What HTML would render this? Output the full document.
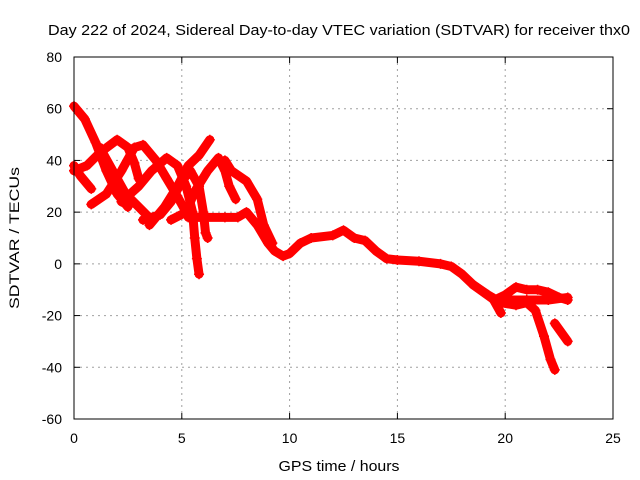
<!DOCTYPE html>
<html><head><meta charset="utf-8"><style>
body{margin:0;background:#fff;}
svg{display:block;font-family:"Liberation Sans",Arial,sans-serif;}
</style></head><body>
<svg id="chart" width="640" height="480">
<text x="339" y="35" font-size="15" text-anchor="middle" textLength="582" lengthAdjust="spacingAndGlyphs">Day 222 of 2024, Sidereal Day-to-day VTEC variation (SDTVAR) for receiver thx0</text>
<text x="339" y="471" font-size="15" text-anchor="middle" textLength="121" lengthAdjust="spacingAndGlyphs">GPS time / hours</text>
<text transform="translate(19,238) rotate(-90)" font-size="14" text-anchor="middle" textLength="142" lengthAdjust="spacingAndGlyphs">SDTVAR / TECUs</text>
<g id="grid"></g><g id="ticks"></g><g id="series"></g>
<rect x="74" y="57" width="539" height="362" fill="none" stroke="#000" stroke-width="1"/>
</svg>
<script>
const xTicks=[0,5,10,15,20,25];
const yTicks=[80,60,40,20,0,-20,-40,-60];
const trackA=[[0,61],[0.5,56],[1,47],[1.5,36],[2,27],[2.5,22]];
const trackB=[[0,36],[0.6,38],[1.2,43],[2,48],[2.5,45],[2.8,39],[3,33]];
const trackC=[[0,38],[0.3,34],[0.8,29]];
const trackD=[[0.8,23],[1.5,27],[2.2,36],[2.8,45],[3.2,46],[3.8,40],[4.3,33],[4.8,26],[5.2,20]];
const trackE=[[1.2,45],[1.8,36],[2.4,27],[3,22],[3.6,17]];
const trackF=[[2.2,24],[3,30],[3.6,36],[4.3,41],[4.8,38],[5.2,30],[5.5,20],[5.6,10],[5.7,2],[5.8,-4]];
const trackG=[[3.5,15],[4.2,22],[4.8,30],[5.3,38],[5.8,42],[6.3,48]];
const trackH=[[4.5,17],[5.2,20],[5.6,28],[6.2,36],[6.7,41],[7,36],[7.2,30],[7.5,25]];
const trackI=[[3.2,17],[4,19],[4.5,24],[5,32],[5.4,36],[5.8,30],[6,20],[6.1,12],[6.2,10]];
const trackJ=[[5.3,18],[6,18],[7,18],[7.6,18],[8,20],[8.5,15],[9,8],[9.3,5],[9.7,3],[10,4],[10.5,8],[11,10],[12,11],[12.5,13],[13,10],[13.5,9],[14,5],[14.5,2],[15,1.5],[16,1],[17,0],[17.5,-1],[18,-4],[18.5,-8],[19,-11],[19.5,-14],[20,-12],[20.5,-9],[21,-10],[21.5,-10],[22,-11],[22.5,-13],[22.9,-14]];
const trackK=[[18.5,-8],[19.2,-12],[19.8,-15],[20.5,-16],[21,-15],[21.4,-18],[21.8,-28],[22.1,-37],[22.3,-41]];
const trackL=[[19.4,-13],[19.8,-19]];
const trackM=[[22.3,-23],[22.9,-30]];
const trackN=[[20,-14],[21,-14],[22,-14],[22.9,-13]];
const trackO=[[7,40],[7.3,36],[8,32],[8.5,25],[8.8,15],[9.2,8]];
const tracks=[trackA,trackB,trackC,trackD,trackE,trackF,trackG,trackH,trackI,trackJ,trackK,trackL,trackM,trackN,trackO];
const X=v=>74+v*(539/25);
const Y=v=>419-(v+60)*(362/140);
const NS="http://www.w3.org/2000/svg";
function mk(t,a,p){const e=document.createElementNS(NS,t);for(const k in a)e.setAttribute(k,a[k]);p.appendChild(e);return e;}
const grid=document.getElementById('grid'),ticks=document.getElementById('ticks'),ser=document.getElementById('series');
xTicks.forEach(t=>{
 if(t>0&&t<25){const g=mk('line',{x1:X(t),x2:X(t),y1:57,y2:419,stroke:'#a0a0a0','stroke-dasharray':'2,4'},grid);
 
 }
 mk('line',{x1:X(t),x2:X(t),y1:419,y2:413,stroke:'#000'},ticks);
 mk('line',{x1:X(t),x2:X(t),y1:57,y2:63,stroke:'#000'},ticks);
 const l=mk('text',{x:X(t),y:443,'font-size':14,'text-anchor':'middle'},ticks);l.textContent=t;
 
 
});
yTicks.forEach(t=>{
 if(t>-60&&t<80){const g=mk('line',{x1:74,x2:613,y1:Y(t),y2:Y(t),stroke:'#a0a0a0','stroke-dasharray':'2,4'},grid);
 
 }
 mk('line',{x1:74,x2:80,y1:Y(t),y2:Y(t),stroke:'#000'},ticks);
 mk('line',{x1:613,x2:607,y1:Y(t),y2:Y(t),stroke:'#000'},ticks);
 const l=mk('text',{x:62,y:Y(t)+5,'font-size':14,'text-anchor':'end'},ticks);l.textContent=t;
 
 
});
tracks.forEach(tr=>{
 const p=mk('polyline',{points:tr.map(d=>X(d[0])+','+Y(d[1])).join(' '),fill:'none',stroke:'#ff0000','stroke-width':9,'stroke-linejoin':'round','stroke-linecap':'round'},ser);
 
 
 tr.forEach(d=>{
  const m=mk('path',{d:`M${X(d[0])-5},${Y(d[1])}h10M${X(d[0])},${Y(d[1])-5}v10`,stroke:'#ff0000','stroke-width':1.5},ser);
  
  
 });
});
</script>
</body></html>
